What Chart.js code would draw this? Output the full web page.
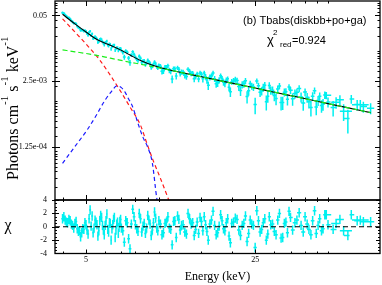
<!DOCTYPE html>
<html><head><meta charset="utf-8">
<script src="https://cdn.jsdelivr.net/npm/chart.js@4.4.1/dist/chart.umd.min.js"></script>
<style>
html,body{margin:0;padding:0;background:#fff;}
#wrap{position:relative;width:382px;height:285px;overflow:hidden;background:#fff;}
canvas{position:absolute;left:0;display:block;}
</style></head><body>
<div id="wrap">
<canvas id="c1" width="382" height="202" style="top:0;width:382px;height:202px"></canvas>
<canvas id="c2" width="382" height="89" style="top:196px;width:382px;height:89px"></canvas>
</div>
<script>
// ---------------- data ----------------
// module A spectrum
const energyA = [4.0,4.1,4.2,4.3,4.4,4.5,4.6,4.7,4.8,4.9,5.0,5.1,5.2,5.3,5.4,5.5,5.6,5.7,5.8,5.9,6.0,6.1,6.2,6.3,6.4,6.5,6.6,6.7,6.8,6.9,7.0,
 7.2,7.4,7.6,7.8,8.0,8.2,8.4,8.6,8.8,9.0,9.2,9.4,9.6,9.8,10.0,
 10.3,10.6,10.9,11.2,11.5,11.8,12.1,12.4,12.8,13.2,13.6,14.0,14.4,14.8,15.2,15.6,16.0,16.5,17.0,17.5,18.0,18.5,19.0,19.5,20.0,
 20.7,21.4,22.1,22.8,23.5,24.2,25.0,25.8,26.6,27.4,28.2,29.0,30.0,31.0,32.0,33.0,34.0,35.0,
 36.5,38,39.5,41,42.5,44,45.5,47,48.5,50,
 52.5,56,60.4,62.4,66,70,75];
const fluxA = [0.0568,0.0512,0.0457,0.0425,0.0374,0.0350,0.0309,0.0281,0.0256,0.0246,
 0.0240,0.0204,0.0243,0.0217,0.0181,0.0181,0.0147,0.0167,0.0167,0.01414,
 0.01435,0.0155,0.01249,0.01325,0.0121,0.01287,0.01027,0.01149,0.01006,0.01109,0.00998,
 0.00747,0.00926,0.00576,0.00948,0.0074,0.00635,0.00709,0.00619,0.00535,0.00649,0.0056,0.00497,0.00603,0.0048,0.00515,
 0.00392,0.00466,0.0050,0.0039,0.00437,0.00314,0.00429,0.00379,0.00324,0.0043,0.00352,0.00276,0.00345,0.00361,
 0.00276,0.00305,0.00205,0.00315,0.00276,0.00227,0.00317,0.00236,0.00259,0.00187,0.00243,
 0.00267,0.00194,0.00212,0.00253,0.0016,0.0020,0.000856,0.00202,0.00158,
 0.00205,0.00125,0.00164,0.00129,0.00174,0.000931,0.0015,0.00108,0.00164,
 0.00141,0.00177,0.000913,0.00119,0.000748,0.00161,0.00103,0.000813,0.00132,0.000956,
 0.000746,0.00106,0.000449,0.0011,0.000853,0.000775,0.000723];
const fluxErrA = [0.00318,0.0029,0.00265,0.00242,0.00222,0.00204,0.00189,0.00175,0.00163,0.00151,
 0.00165,0.00155,0.00145,0.00137,0.00129,0.00121,0.00114,0.0011,0.00106,0.00103,
 0.00099,0.000958,0.000926,0.000896,0.000865,0.000837,0.000809,0.000783,0.000757,0.000735,0.000708,
 0.000848,0.000791,0.000738,0.000691,0.000649,0.00061,0.000576,0.000552,0.000529,0.000507,0.000487,0.000468,0.000453,0.00044,0.000428,
 0.00055,0.000528,0.000509,0.000492,0.000479,0.000467,0.000455,0.000444,0.00043,0.000416,0.000403,0.000392,0.000382,0.000371,
 0.000421,0.00041,0.000399,0.000386,0.000375,0.000364,0.000354,0.000344,0.000335,0.000326,0.000318,
 0.000372,0.00036,0.000349,0.000338,0.000328,0.000318,0.000308,0.000298,0.000289,
 0.00033,0.00032,0.00031,0.0003,0.00029,0.000282,0.000272,0.000264,0.000256,
 0.000295,0.000283,0.000271,0.000262,0.000252,0.000245,0.000236,0.000228,0.000221,0.000214,
 0.000254,0.000238,0.000221,0.000213,0.000202,0.00019,0.000177];
const chiA = [1.2,1.0,0.6,0.9,0.2,0.5,-0.3,-0.6,-0.9,-0.4,
 0.3,-1.1,2.5,1.6,-0.2,0.7,-1.4,0.9,1.4,-0.5,
 0.2,1.9,-0.8,0.5,-0.3,1.1,-1.6,0.4,-1.0,0.8,-0.2,
 -2.3,0.6,-3.3,2.6,0.3,-0.7,1.2,0.1,-1.0,1.7,0.4,-0.5,2.2,-0.2,0.9,
 -1.2,0.5,1.5,-0.4,0.8,-1.6,1.1,0.2,-0.8,2.0,0.4,-1.3,0.7,1.4,
 -0.6,0.3,-2.0,1.0,0.2,-0.9,1.8,-0.3,0.6,-1.4,0.5,
 1.3,-0.5,0.2,1.6,-1.0,0.4,-3.1,0.9,-0.4,
 1.2,-1.1,0.3,-0.7,1.0,-1.7,0.5,-0.9,1.4,
 0.6,2.1,-0.8,0.4,-1.2,2.4,0.2,-0.6,1.8,0.3,
 -0.4,1.1,-1.3,1.8,0.9,0.75,0.75];
// module B spectrum
const energyB = [4.05,4.15,4.25,4.35,4.45,4.55,4.65,4.75,4.85,4.95,5.05,5.15,5.25,5.35,5.45,5.55,5.65,5.75,5.85,5.95,
 6.05,6.15,6.25,6.35,6.45,6.55,6.65,6.75,6.85,6.95,
 7.1,7.3,7.5,7.7,7.9,8.1,8.3,8.5,8.7,8.9,9.1,9.3,9.5,9.7,9.9,
 10.15,10.45,10.75,11.05,11.35,11.65,11.95,12.25,12.6,13.0,13.4,13.8,14.2,14.6,15.0,15.4,15.8,16.25,16.75,17.25,17.75,18.25,18.75,19.25,19.75,
 20.35,21.05,21.75,22.45,23.15,23.85,24.6,25.4,26.2,27.0,27.8,28.6,29.5,30.5,31.5,32.5,33.5,34.5,
 35.7,37.2,38.7,40.2,41.7,43.2,44.7,46.2,47.7,49.2,
 54,58,68];
const fluxB = [0.0552,0.0481,0.045,0.0395,0.0351,0.0343,0.029,0.0256,0.0256,0.0252,
 0.022,0.0232,0.0202,0.0177,0.019,0.0172,0.0153,0.0173,0.01513,0.01319,
 0.01479,0.01307,0.01356,0.01082,0.01241,0.0129,0.01097,0.01154,0.01059,0.0111,
 0.00924,0.00984,0.00712,0.00823,0.00844,0.00681,0.00778,0.00581,0.00627,0.00565,0.00602,0.00468,0.00538,0.00554,0.00456,
 0.00489,0.0040,0.00468,0.00407,0.00273,0.00437,0.00458,0.00352,0.00377,0.00306,0.0039,0.00355,0.00307,0.00275,
 0.00339,0.00359,0.00261,0.00296,0.0036,0.0022,0.0026,0.0028,0.00222,0.00276,0.00153,
 0.0025,0.00255,0.00162,0.00219,0.00123,0.00222,0.0019,0.00251,0.00149,
 0.00187,0.000972,0.00204,0.00164,0.00112,0.0020,0.000938,0.00153,0.0019,
 0.00111,0.00149,0.00121,0.00151,0.000967,0.00125,0.00076,0.00124,0.000868,0.0013,
 0.000948,0.00063,0.000848];
const fluxErrB = [0.00304,0.00277,0.00253,0.00232,0.00213,0.00196,0.00182,0.00169,0.00157,0.00146,
 0.0016,0.0015,0.00141,0.00132,0.00125,0.00118,0.00112,0.00108,0.00104,0.00101,
 0.000974,0.000942,0.000911,0.000881,0.000851,0.000823,0.000796,0.00077,0.000746,0.000722,
 0.000879,0.000819,0.000765,0.000715,0.00067,0.00063,0.000593,0.000563,0.00054,0.000518,0.000497,0.000477,0.000459,0.000446,0.000434,
 0.00056,0.000539,0.000518,0.0005,0.000485,0.000473,0.000461,0.000449,0.000437,0.000422,0.000409,0.000397,0.000386,0.000376,
 0.000427,0.000416,0.000405,0.000392,0.000381,0.00037,0.000358,0.000349,0.000339,0.00033,0.000322,
 0.000379,0.000366,0.000354,0.000343,0.000333,0.000323,0.000313,0.000303,0.000292,
 0.000334,0.000324,0.000314,0.000304,0.000294,0.000286,0.000276,0.000268,0.00026,
 0.000302,0.000288,0.000276,0.000266,0.000257,0.000247,0.00024,0.000232,0.000224,0.000217,
 0.000247,0.00023,0.000196];
const chiB = [1.5,0.7,1.1,0.4,-0.2,0.8,-0.7,-1.5,-0.3,0.6,
 -0.5,1.2,0.1,-0.9,1.0,0.3,-0.6,1.7,0.2,-1.2,
 0.9,-0.4,0.6,-2.0,0.3,1.4,-0.5,0.7,-0.1,1.1,
 -0.6,0.9,-1.8,0.4,1.5,-0.3,2.0,-0.8,0.5,-0.2,1.0,-1.3,0.6,1.3,-0.6,
 0.4,-0.9,0.7,-0.2,-2.7,0.9,1.6,-0.5,0.3,-1.1,1.2,0.6,-0.4,-1.0,
 0.8,1.5,-0.7,0.4,2.3,-1.2,0.1,0.9,-0.6,1.2,-2.4,
 0.7,1.1,-1.3,0.5,-2.2,1.0,0.2,2.4,-0.8,
 0.6,-2.0,1.5,0.4,-1.2,2.0,-1.6,0.7,2.3,
 -0.5,1.0,0.2,1.5,-0.4,0.9,-1.0,1.2,-0.3,1.8,
 0.5,-0.6,1.0];
const chiErr = 0.7;

// model components
const totalE    = [4.0,4.5,5.0,5.6,6.3,6.9,7.6,8.4,9.5,11.1,15,20,25,30,40,50,60,75];
const totalFlux = [0.053,0.034,0.0235,0.0163,0.0128,0.0105,0.0082,0.0064,0.0051,0.00414,0.00304,0.00227,0.00181,0.0015,0.00112,0.00089,0.00074,0.00059];
const poE       = [4.0,4.5,5.0,5.6,6.3,6.9,7.6,8.4,9.5,11.1,15,20,25,30,40,50,60,75];
const poFlux    = [0.0104,0.0095,0.0088,0.0080,0.0071,0.0065,0.0059,0.0054,0.0048,0.00412,0.00303,0.00226,0.0018,0.0015,0.00112,0.00089,0.00074,0.00059];
const diskE     = [4.0,4.5,5.0,5.7,6.9,7.6,8.4,8.9,9.45,10.1,10.9,11.3];
const diskFlux  = [0.043,0.0235,0.0136,0.0065,0.00165,0.00076,0.00033,0.00015,0.000068,0.000031,0.000012,0.0000075];
const gaE       = [4.0,4.5,5.05,5.5,6.0,6.4,6.7,7.0,7.25,7.5,7.77,8.2,8.6,9.0,9.4,9.8,10.1];
const gaFlux    = [5.8e-5,1.25e-4,2.65e-4,5.1e-4,1.05e-3,1.6e-3,2.0e-3,1.85e-3,1.5e-3,1.1e-3,8.0e-4,3.6e-4,1.9e-4,1.2e-4,5.9e-5,1.2e-5,6e-6];

// axes
const xRange = [3.723, 82.0];
const fluxRange = [1.084e-5, 0.097];
const chiRange = [-4, 4];
const xMajor = [5, 25];
const xMinor = [4,6,7,8,9,10,15,20,30,35,40,45,50];
const yMajor = [0.05, 2.5e-3, 1.25e-4];
const yMajorLabels = ['0.05','2.5e-03','1.25e-04'];
const yMinor = [0.09,0.08,0.07,0.06,0.04,0.03,0.02,0.01,0.009,0.008,0.007,0.006,0.005,0.004,0.003,0.002,0.001,
  9e-4,8e-4,7e-4,6e-4,5e-4,4e-4,3e-4,2e-4,1e-4,9e-5,8e-5,7e-5,6e-5,5e-5,4e-5,3e-5,2e-5];
const chiMajor = [4,2,0,-2,-4];
const chiMinor = [3,1,-1,-3, 3.5,2.5,1.5,0.5,-0.5,-1.5,-2.5,-3.5];

// ---------------- drawing ----------------
const SERIF = "'Liberation Serif','DejaVu Serif',serif";
const SANS = "'Liberation Sans',Arial,sans-serif";
const CYAN = '#00f0f0';
const spectra = [
  {e:energyA, f:fluxA, fe:fluxErrA, c:chiA},
  {e:energyB, f:fluxB, fe:fluxErrB, c:chiB}
];

function pts(xs, ys){ return xs.map((x,i)=>({x:x, y:ys[i]})); }
function noPad(s){ s.paddingTop = 0; s.paddingBottom = 0; s.paddingLeft = 0; s.paddingRight = 0; }

function binEdges(e, i){
  const n = e.length;
  const lo = i>0 ? Math.sqrt(e[i-1]*e[i]) : e[i]*Math.sqrt(e[0]/e[1]);
  const hi = i<n-1 ? Math.sqrt(e[i]*e[i+1]) : e[i]*Math.sqrt(e[n-1]/e[n-2]);
  return [lo,hi];
}

function errBarPlugin(kind){
  return {
    id:'errbars',
    beforeDatasetsDraw(chart){
      const {ctx, chartArea:a, scales} = chart;
      const xs = scales.x, ys = scales.y;
      ctx.save();
      ctx.beginPath(); ctx.rect(a.left, a.top, a.right-a.left, a.bottom-a.top); ctx.clip();
      ctx.strokeStyle = CYAN; ctx.lineWidth = 1.5;
      ctx.beginPath();
      spectra.forEach(sp=>{
        for(let i=0;i<sp.e.length;i++){
          const [lo,hi] = binEdges(sp.e, i);
          const px = xs.getPixelForValue(sp.e[i]);
          let yc, ylo, yhi;
          if(kind==='flux'){ yc=sp.f[i]; ylo=Math.max(sp.f[i]-sp.fe[i], 1e-7); yhi=sp.f[i]+sp.fe[i]; }
          else { yc=sp.c[i]; ylo=sp.c[i]-chiErr; yhi=sp.c[i]+chiErr; }
          const py = ys.getPixelForValue(yc);
          ctx.moveTo(xs.getPixelForValue(lo), py); ctx.lineTo(xs.getPixelForValue(hi), py);
          ctx.moveTo(px, ys.getPixelForValue(ylo)); ctx.lineTo(px, ys.getPixelForValue(yhi));
        }
      });
      ctx.stroke();
      ctx.restore();
    }
  };
}

function framePlugin(yMaj, yMin, majLen, minLen){
  return {
    id:'frame',
    afterDraw(chart){
      const {ctx, chartArea:a, scales} = chart;
      const xs = scales.x, ys = scales.y;
      ctx.save();
      ctx.strokeStyle = '#000'; ctx.lineWidth = 1.3;
      ctx.strokeRect(a.left, a.top, a.right-a.left, a.bottom-a.top);
      ctx.lineWidth = 1;
      ctx.beginPath();
      const xt = (v,L)=>{ const p = Math.round(xs.getPixelForValue(v))+0.5;
        ctx.moveTo(p,a.top); ctx.lineTo(p,a.top+L); ctx.moveTo(p,a.bottom); ctx.lineTo(p,a.bottom-L); };
      const yt = (v,L,out)=>{ const p = Math.round(ys.getPixelForValue(v))+0.5;
        if(p<a.top-0.1||p>a.bottom+0.6) return;
        ctx.moveTo(a.left-out,p); ctx.lineTo(a.left+L,p); ctx.moveTo(a.right,p); ctx.lineTo(a.right-L,p); };
      xMajor.forEach(v=>xt(v,majLen));
      xMinor.forEach(v=>xt(v,minLen));
      yMaj.forEach(v=>yt(v,majLen,3));
      yMin.forEach(v=>yt(v,minLen,0));
      ctx.stroke();
      ctx.restore();
    }
  };
}

const textPlugin1 = {
  id:'text1',
  afterDraw(chart){
    const ctx = chart.ctx;
    ctx.save();
    ctx.fillStyle = '#000';
    ctx.translate(18, 180);
    ctx.rotate(-Math.PI/2);
    ctx.textBaseline = 'alphabetic'; ctx.textAlign = 'left';
    const big = '16px '+SERIF, small = '11px '+SERIF;
    const parts = [['Photons cm',big,0],['-1',small,-10],[' s',big,0],['-1',small,-10],[' keV',big,0],['-1',small,-10]];
    let x = 0;
    parts.forEach(([t,f,dy])=>{ ctx.font=f; ctx.fillText(t,x,dy); x += ctx.measureText(t).width; });
    ctx.restore();
    ctx.save();
    ctx.fillStyle = '#000'; ctx.textBaseline='alphabetic'; ctx.textAlign='left';
    ctx.font = '11px '+SANS;
    ctx.fillText('(b) Tbabs(diskbb+po+ga)', 243, 24);
    ctx.font = '13px '+SANS; ctx.fillText('\u03C7', 267, 44);
    ctx.font = '8px '+SANS; ctx.fillText('2', 273, 35);
    ctx.font = '8px '+SANS; ctx.fillText('red', 280, 47);
    ctx.font = '11px '+SANS; ctx.fillText('=0.924', 292, 44);
    ctx.restore();
  }
};

const textPlugin2 = {
  id:'text2',
  afterDraw(chart){
    const ctx = chart.ctx;
    ctx.save();
    ctx.fillStyle = '#000'; ctx.textAlign='center'; ctx.textBaseline='middle';
    ctx.font = '16px '+SERIF;
    ctx.fillText('\u03C7', 8, 30);
    ctx.font = '12px '+SERIF;
    ctx.fillText('Energy (keV)', 217.5, 81);
    ctx.restore();
  }
};

const lineDs = (label, xs, ys, color, dash, order, w) => ({
  label, data: pts(xs, ys), showLine:true, borderColor:color, borderWidth:w||1.2,
  borderDash:dash, pointRadius:0, fill:false, cubicInterpolationMode:'monotone', order
});

new Chart(document.getElementById('c1'), {
  type:'scatter',
  data:{ datasets:[
    {label:'dataA', data:pts(energyA, fluxA), pointRadius:0, showLine:false, order:10},
    {label:'dataB', data:pts(energyB, fluxB), pointRadius:0, showLine:false, order:11},
    lineDs('total', totalE, totalFlux, '#000000', [], 4, 1.1),
    lineDs('diskbb', diskE, diskFlux, '#ff1a1a', [4,3], 3),
    lineDs('gaussian', gaE, gaFlux, '#1a1aff', [4,3], 2),
    lineDs('powerlaw', poE, poFlux, '#1aee1a', [5,3], 1)
  ]},
  options:{
    responsive:false, animation:false, events:[],
    layout:{padding:{left:0,right:2,top:1,bottom:2}},
    plugins:{legend:{display:false}, tooltip:{enabled:false}},
    scales:{
      x:{type:'logarithmic', min:xRange[0], max:xRange[1], display:false},
      y:{type:'logarithmic', position:'left', min:fluxRange[0], max:fluxRange[1],
         afterFit(s){ s.width = 55; noPad(s); },
         afterBuildTicks(s){ s.ticks = yMajor.map(v=>({value:v})); },
         grid:{display:false, drawTicks:false}, border:{display:false},
         ticks:{autoSkip:false, padding:8, color:'#000', font:{family:SERIF, size:8},
                callback:(v,i)=>yMajorLabels[i]}}
    }
  },
  plugins:[errBarPlugin('flux'), framePlugin(yMajor, yMinor, 5, 2.5), textPlugin1]
});

new Chart(document.getElementById('c2'), {
  type:'scatter',
  data:{ datasets:[
    {label:'chiA', data:pts(energyA, chiA), pointRadius:0, showLine:false, order:10},
    {label:'chiB', data:pts(energyB, chiB), pointRadius:0, showLine:false, order:11},
    {label:'zero', data:[{x:xRange[0], y:0},{x:xRange[1], y:0}], showLine:true, borderColor:'#000',
     borderWidth:1.1, borderDash:[5,3], pointRadius:0, order:1}
  ]},
  options:{
    responsive:false, animation:false, events:[],
    layout:{padding:{left:0,right:2,top:4,bottom:0}},
    plugins:{legend:{display:false}, tooltip:{enabled:false}},
    scales:{
      x:{type:'logarithmic', min:xRange[0], max:xRange[1], position:'bottom',
         afterFit(s){ s.height = 31.5; noPad(s); },
         afterBuildTicks(s){ s.ticks = xMajor.map(v=>({value:v})); },
         grid:{display:false, drawTicks:false}, border:{display:false},
         ticks:{autoSkip:false, maxRotation:0, padding:2, color:'#000', font:{family:SERIF, size:8},
                callback:(v)=>String(v)}},
      y:{type:'linear', position:'left', min:chiRange[0], max:chiRange[1],
         afterFit(s){ s.width = 55; noPad(s); },
         afterBuildTicks(s){ s.ticks = chiMajor.map(v=>({value:v})); },
         grid:{display:false, drawTicks:false}, border:{display:false},
         ticks:{autoSkip:false, padding:8, color:'#000', font:{family:SERIF, size:8}}}
    }
  },
  plugins:[errBarPlugin('chi'), framePlugin(chiMajor, chiMinor, 4, 2), textPlugin2]
});
</script>
</body></html>
